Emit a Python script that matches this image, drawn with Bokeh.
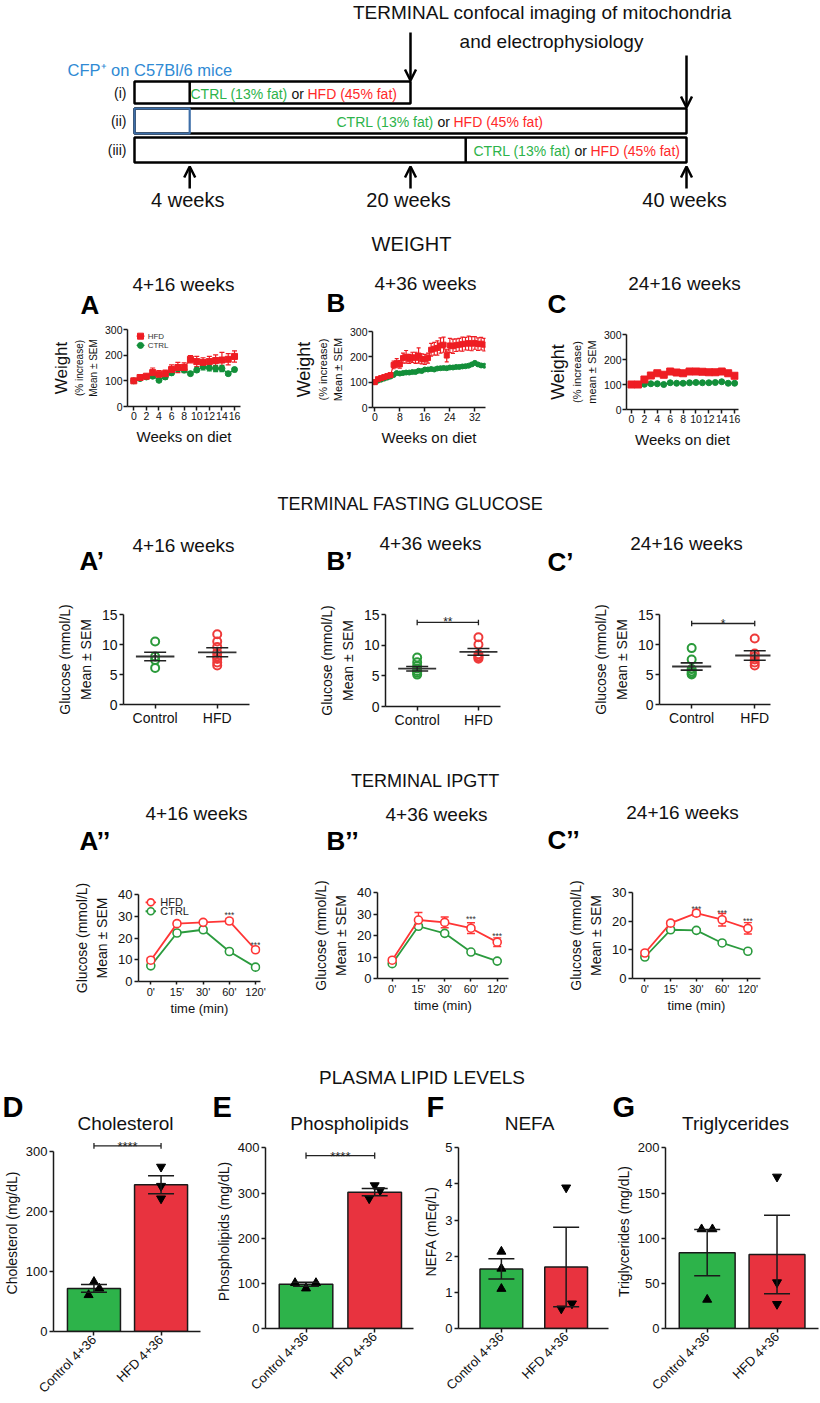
import math
from bokeh.plotting import figure
from bokeh.layouts import column, row
from bokeh.models import (Range1d, LinearAxis, FixedTicker, Whisker, TeeHead,
                          ColumnDataSource, Arrow, OpenHead)
from bokeh.core.properties import value
from bokeh.embed import file_html
from bokeh.resources import INLINE

FONT = "Liberation Sans"
AX = "#1a1a1a"

# ------------------------------------------------------------------ DATA
# timeline (weeks of age)
tl_row_end = [20, 40, 40]
tl_diet_start = [4, 4, 24]
tl_ticks = [4, 20, 40]
tl_tick_labels = ["4 weeks", "20 weeks", "40 weeks"]
tl_row_labels = ["(i)", "(ii)", "(iii)"]

# weight, % of start
wA_weeks = list(range(17))
wA_hfd = [100, 113, 118, 132, 126, 128, 144, 152, 152, 184, 175, 172, 175, 179, 181, 184, 195]
wA_hfd_err = [4, 5, 6, 18, 14, 14, 18, 20, 18, 14, 20, 18, 20, 22, 30, 22, 22]
wA_ctrl = [100, 109, 115, 118, 102, 115, 131, 148, 142, 128, 142, 155, 151, 148, 148, 128, 144]
wA_ctrl_err = [4, 5, 6, 6, 5, 8, 8, 12, 10, 6, 8, 12, 12, 12, 12, 6, 8]

wB_weeks = list(range(36))
wB_hfd = [100, 112, 116, 120, 124, 128, 168, 175, 170, 195, 200, 192, 198, 196, 205, 192, 190, 195,
          228, 232, 235, 245, 248, 205, 245, 242, 246, 248, 250, 252, 254, 252, 255, 250, 252, 248]
wB_hfd_err = [3, 5, 5, 6, 6, 8, 15, 18, 15, 20, 25, 18, 20, 22, 30, 20, 20, 20,
              25, 25, 28, 30, 30, 25, 28, 28, 25, 25, 28, 25, 28, 28, 25, 25, 25, 25]
wB_ctrl = [100, 106, 110, 114, 118, 122, 128, 136, 134, 136, 138, 138, 140, 140, 145, 144, 150, 150,
           152, 150, 154, 155, 156, 155, 158, 158, 160, 160, 162, 163, 165, 170, 176, 170, 166, 165]
wB_ctrl_err = [3, 3, 4, 4, 4, 4, 5, 5, 5, 5, 5, 5, 5, 5, 5, 5, 5, 5,
               5, 5, 5, 5, 5, 5, 5, 5, 5, 5, 5, 5, 5, 5, 6, 5, 5, 5]

wC_weeks = list(range(17))
wC_hfd = [100, 100, 120, 136, 145, 139, 152, 148, 145, 152, 152, 151, 149, 149, 152, 145, 135]
wC_hfd_err = [3, 3, 6, 4, 4, 3, 3, 3, 3, 3, 3, 3, 3, 3, 3, 4, 6]
wC_ctrl = [100, 100, 101, 103, 103, 100, 107, 105, 105, 107, 108, 107, 107, 108, 111, 105, 105]
wC_ctrl_err = [2, 2, 2, 2, 2, 2, 2, 2, 2, 2, 2, 2, 2, 2, 3, 2, 2]

# fasting glucose (mmol/L)
gA_ctrl = [10.5, 8.0, 7.4, 6.1]
gA_hfd = [11.7, 10.5, 9.6, 8.6, 8.0, 7.6, 7.0, 6.5]
gA_mean = [8.0, 8.7]
gA_sem = [0.7, 0.75]
gB_ctrl = [8.0, 7.2, 6.6, 6.2, 5.8, 5.5, 5.2]
gB_hfd = [11.3, 10.1, 8.5, 8.2, 8.0, 7.8]
gB_mean = [6.16, 8.9]
gB_sem = [0.37, 0.55]
gC_ctrl = [9.4, 7.5, 5.9, 5.5, 5.2, 5.0]
gC_hfd = [11.0, 8.5, 8.0, 7.5, 7.0, 6.5]
gC_mean = [6.33, 8.17]
gC_sem = [0.6, 0.8]
g_groups = ["Control", "HFD"]

# IPGTT (mmol/L)
ip_times = ["0'", "15'", "30'", "60'", "120'"]
ipA_hfd = [9.8, 26.6, 27.2, 27.8, 14.6]
ipA_hfd_err = [1.2, 1.0, 0.8, 1.2, 0.8]
ipA_ctrl = [7.2, 22.3, 23.8, 13.8, 6.6]
ipA_ctrl_err = [0.6, 0.6, 0.6, 0.6, 0.6]
ipA_star_t = [3, 4]
ipA_star_y = [32.6, 18.8]
ipB_hfd = [8.5, 27.2, 26.1, 23.4, 16.9]
ipB_hfd_err = [1.0, 3.5, 2.5, 2.5, 2.0]
ipB_ctrl = [6.9, 24.3, 21.0, 12.3, 8.1]
ipB_ctrl_err = [0.5, 0.7, 0.6, 0.6, 0.5]
ipB_star_t = [3, 4]
ipB_star_y = [29.4, 21.6]
ipC_hfd = [8.9, 19.3, 22.8, 20.5, 17.5]
ipC_hfd_err = [0.8, 0.8, 1.0, 2.2, 2.0]
ipC_ctrl = [7.5, 17.0, 16.8, 12.4, 9.5]
ipC_ctrl_err = [0.5, 0.5, 0.5, 0.5, 0.5]
ipC_star_t = [2, 3, 4]
ipC_star_y = [25.6, 24.4, 21.6]

# plasma lipids
lip_groups = ["Control 4+36", "HFD 4+36"]
chol_mean = [72, 245]
chol_sem = [6.4, 15]
chol_ctrl = [83, 72, 61]
chol_ctrl_dx = [0.0, 0.08, -0.08]
chol_hfd = [275, 243, 222]
chol_hfd_dx = [0.0, 0.0, 0.0]
phos_mean = [98, 302]
phos_sem = [4.5, 8]
phos_ctrl = [101, 101, 89]
phos_ctrl_dx = [-0.16, 0.145, 0.0]
phos_hfd = [317, 306, 288]
phos_hfd_dx = [0.0, 0.08, -0.08]
nefa_mean = [1.65, 1.70]
nefa_sem = [0.28, 1.10]
nefa_ctrl = [2.13, 1.66, 1.10]
nefa_ctrl_dx = [0.0, 0.0, 0.0]
nefa_hfd = [3.90, 0.69, 0.55]
nefa_hfd_dx = [0.0, 0.09, -0.075]
tg_mean = [84, 82]
tg_sem = [25.5, 43.5]
tg_ctrl = [110, 110, 32]
tg_ctrl_dx = [-0.08, 0.075, 0.0]
tg_hfd = [168, 51, 27]
tg_hfd_dx = [0.0, 0.0, 0.0]

RED_W, GREEN_W = "#ee1d23", "#138f3a"
RED_G, GREEN_G = "#ee3a3a", "#2a9a3a"
RED_I, GREEN_I = "#ff3535", "#2b9b3e"
BAR_G, BAR_R = "#2db34a", "#e8333f"

PAGE_W = 820


# ------------------------------------------------------------------ helpers
def canvas(y0, y1):
    p = figure(width=PAGE_W, height=y1 - y0, x_range=Range1d(0, PAGE_W), y_range=Range1d(y1, y0),
               output_backend="svg", toolbar_location=None, min_border=0, frame_align=False)
    p.xaxis.visible = False
    p.yaxis.visible = False
    p.xgrid.visible = False
    p.ygrid.visible = False
    p.outline_line_color = None
    return p


def txt(p, x, y, t, size, color="#111111", align="center", bold=False, baseline="middle"):
    p.text(x=[x], y=[y], text=[t], text_font=value(FONT), text_font_size=f"{size}px",
           text_color=color, text_align=align, text_baseline=baseline,
           text_font_style="bold" if bold else "normal")


def style_axis(ax, tick_size="11px"):
    ax.axis_line_width = 1.5
    ax.axis_line_color = AX
    ax.major_tick_line_width = 1.5
    ax.major_tick_line_color = AX
    ax.major_tick_in = 0
    ax.major_tick_out = 4
    ax.minor_tick_line_color = None
    ax.major_label_text_font = FONT
    ax.major_label_text_font_size = tick_size
    ax.major_label_text_color = "#111111"
    ax.major_label_standoff = 2
    ax.axis_label_text_font = FONT
    ax.axis_label_text_font_style = "normal"
    ax.axis_label_text_color = "#111111"


def make_plot(fx0, fx1, by0, by1, frame, xr, yr):
    fl, fr, ft, fb = frame
    p = figure(width=fx1 - fx0, height=by1 - by0,
               x_range=Range1d(*xr), y_range=Range1d(*yr),
               output_backend="svg", toolbar_location=None, frame_align=False,
               min_border_left=fl - fx0, min_border_right=fx1 - fr,
               min_border_top=ft - by0, min_border_bottom=by1 - fb)
    p.xgrid.visible = False
    p.ygrid.visible = False
    p.outline_line_color = None
    style_axis(p.xaxis[0])
    style_axis(p.yaxis[0])
    return p


def ylabels(p, labs):
    main = p.yaxis[0]
    t, s, so = labs[0]
    main.axis_label = t
    main.axis_label_text_font_size = s
    main.axis_label_standoff = so
    for t, s, so in labs[1:]:
        ax = LinearAxis(ticker=FixedTicker(ticks=[]), axis_line_color=None,
                        major_tick_in=0, major_tick_out=0, minor_tick_in=0, minor_tick_out=0,
                        major_label_standoff=0, axis_label=t, axis_label_text_font=FONT,
                        axis_label_text_font_size=s, axis_label_text_font_style="normal",
                        axis_label_standoff=so, axis_label_text_color="#111111")
        p.add_layout(ax, "left")


def errbars(p, x, y, e, color, head, lw=1.2, level="underlay"):
    src = ColumnDataSource(dict(base=list(x),
                                upper=[a + b for a, b in zip(y, e)],
                                lower=[a - b for a, b in zip(y, e)]))
    w = Whisker(source=src, base="base", upper="upper", lower="lower",
                line_color=color, line_width=lw, level=level,
                upper_head=TeeHead(size=head, line_color=color, line_width=lw),
                lower_head=TeeHead(size=head, line_color=color, line_width=lw))
    p.add_layout(w)


def sigbar(p, y, cap, stars, size, x0=1, x1=2, yoff=1):
    p.segment(x0=[x0, x0, x1], y0=[y, y - cap, y - cap], x1=[x1, x0, x1], y1=[y, y + cap, y + cap],
              line_color="#222222", line_width=1.3)
    p.text(x=[(x0 + x1) / 2], y=[y], text=[stars], text_font=value(FONT),
           text_font_size=f"{size}px", text_align="center", text_baseline="alphabetic",
           text_color="#222222", y_offset=yoff)


# ------------------------------------------------------------------ header 1: timeline + weight titles
def tx(w):
    return 134 + 13.8 * w


h1 = canvas(0, 318)
txt(h1, 542, 12, "TERMINAL confocal imaging of mitochondria", 19)
txt(h1, 551, 41, "and electrophysiology", 19)
txt(h1, 67, 69, "CFP\u207a on C57Bl/6 mice", 16.5, color="#2f8ad4", align="left")
rows_y = [(81, 103), (108, 133), (137, 162)]
for i, (y0, y1) in enumerate(rows_y):
    h1.quad(left=[tx(0)], right=[tx(tl_row_end[i])], top=[y0], bottom=[y1],
            fill_color=None, line_color="black", line_width=2.5)
    txt(h1, 126, (y0 + y1) / 2, tl_row_labels[i], 14, align="right")
# blue start box in row ii
h1.quad(left=[tx(0)], right=[tx(tl_diet_start[1])], top=[rows_y[1][0]], bottom=[rows_y[1][1]],
        fill_color=None, line_color="#3d6ea8", line_width=2.2)
h1.segment(x0=[tx(tl_diet_start[0]), tx(tl_diet_start[2])], y0=[rows_y[0][0], rows_y[2][0]],
           x1=[tx(tl_diet_start[0]), tx(tl_diet_start[2])], y1=[rows_y[0][1], rows_y[2][1]],
           line_color="black", line_width=2.5)
diet_text_x = [190, 336, 473]
for i, (y0, y1) in enumerate(rows_y):
    ym = (y0 + y1) / 2 + 1
    x = diet_text_x[i]
    txt(h1, x, ym, "CTRL (13% fat)", 14, color="#2db34a", align="left")
    txt(h1, x + 101, ym, "or", 14, color="#111111", align="left")
    txt(h1, x + 117, ym, "HFD (45% fat)", 14, color="#ff2a2a", align="left")
for xw, ys, ye in [(20, 32, 80), (40, 55, 107)]:
    h1.add_layout(Arrow(x_start=tx(xw), y_start=ys, x_end=tx(xw), y_end=ye, line_width=2.5,
                        end=OpenHead(size=11, line_width=2.5)))
for w, lab in zip(tl_ticks, tl_tick_labels):
    h1.add_layout(Arrow(x_start=tx(w), y_start=188, x_end=tx(w), y_end=166, line_width=2.5,
                        end=OpenHead(size=11, line_width=2.5)))
    txt(h1, tx(w) - 2, 199, lab, 20)
txt(h1, 411, 243, "WEIGHT", 20)
txt(h1, 183, 284, "4+16 weeks", 19)
txt(h1, 425, 283, "4+36 weeks", 19)
txt(h1, 684, 283, "24+16 weeks", 19)
txt(h1, 80, 304, "A", 26, color="black", align="left", bold=True)
txt(h1, 326, 302, "B", 26, color="black", align="left", bold=True)
txt(h1, 547, 303, "C", 26, color="black", align="left", bold=True)


# ------------------------------------------------------------------ weight plots
def weight_panel(fx0, fx1, frame, xr, weeks, hfd, hfd_e, ctrl, ctrl_e, xticks, ylabs, ms, head):
    p = make_plot(fx0, fx1, 318, 452, frame, xr, (0, 300))
    p.xaxis[0].ticker = FixedTicker(ticks=xticks)
    p.yaxis[0].ticker = FixedTicker(ticks=[0, 100, 200, 300])
    p.xaxis[0].major_label_text_font_size = "10.5px"
    p.yaxis[0].major_label_text_font_size = "10.5px"
    p.xaxis[0].major_label_standoff = 1
    p.yaxis[0].major_label_standoff = 1
    p.xaxis[0].axis_label = "Weeks on diet"
    p.xaxis[0].axis_label_text_font_size = "15px"
    p.xaxis[0].axis_label_standoff = 5
    ylabels(p, ylabs)
    errbars(p, weeks, ctrl, ctrl_e, GREEN_W, head)
    p.line(weeks, ctrl, line_color=GREEN_W, line_width=1.2)
    p.scatter(weeks, ctrl, marker="circle", size=ms[1], color=GREEN_W)
    errbars(p, weeks, hfd, hfd_e, RED_W, head)
    p.line(weeks, hfd, line_color=RED_W, line_width=1.2)
    p.scatter(weeks, hfd, marker="square", size=ms[0], color=RED_W)
    return p


pA = weight_panel(0, 290, (127, 240, 329, 406), (-1.0, 16.95), wA_weeks, wA_hfd, wA_hfd_err,
                  wA_ctrl, wA_ctrl_err, list(range(0, 17, 2)),
                  [("Mean \u00b1 SEM", "10px", 3), ("(% increase)", "10px", 0), ("Weight", "17px", 0)],
                  (6, 6), 5)
# legend of A
pA.segment(x0=[0.45, 0.45], y0=[274, 238], x1=[1.7, 1.7], y1=[274, 238],
           line_color=[RED_W, GREEN_W], line_width=1.2)
pA.scatter([1.07], [274], marker="square", size=6, color=RED_W)
pA.scatter([1.07], [238], marker="circle", size=6, color=GREEN_W)
pA.text(x=[2.2, 2.2], y=[274, 238], text=["HFD", "CTRL"], text_font=value(FONT),
        text_font_size="8px", text_baseline="middle", text_color="#333333")

pB = weight_panel(290, 540, (372, 485, 331, 407), (-0.75, 35.4), wB_weeks, wB_hfd, wB_hfd_err,
                  wB_ctrl, wB_ctrl_err, [0, 8, 16, 24, 32],
                  [("Mean \u00b1 SEM", "11px", 3), ("(% increase)", "11px", 0), ("Weight", "18px", 0)],
                  (5, 5), 4)
pC = weight_panel(540, 820, (626, 738, 334, 409), (-0.78, 16.6), wC_weeks, wC_hfd, wC_hfd_err,
                  wC_ctrl, wC_ctrl_err, list(range(0, 17, 2)),
                  [("mean \u00b1 SEM", "11px", 3), ("(% increase)", "11px", 0), ("Weight", "18px", 0)],
                  (7, 6), 4)

# ------------------------------------------------------------------ header 2
h2 = canvas(452, 590)
txt(h2, 410, 503, "TERMINAL FASTING GLUCOSE", 18)
txt(h2, 183, 545, "4+16 weeks", 19)
txt(h2, 430, 543, "4+36 weeks", 19)
txt(h2, 686, 543, "24+16 weeks", 19)
txt(h2, 79, 560, "A\u2019", 26, color="black", align="left", bold=True)
txt(h2, 326, 560, "B\u2019", 26, color="black", align="left", bold=True)
txt(h2, 547, 561, "C\u2019", 26, color="black", align="left", bold=True)


def glucose_panel(fx0, fx1, frame, xr, ctrl, hfd, mean, sem, sig=None):
    p = make_plot(fx0, fx1, 590, 738, frame, xr, (0, 15))
    p.xaxis[0].ticker = FixedTicker(ticks=[1, 2])
    p.xaxis[0].major_label_overrides = {1: g_groups[0], 2: g_groups[1]}
    p.yaxis[0].ticker = FixedTicker(ticks=[0, 5, 10, 15])
    p.xaxis[0].major_label_text_font_size = "14px"
    p.yaxis[0].major_label_text_font_size = "14px"
    p.xaxis[0].major_label_standoff = 1
    ylabels(p, [("Mean \u00b1 SEM", "14px", 5), ("Glucose (mmol/L)", "14px", 2)])
    p.scatter([1] * len(ctrl), ctrl, marker="circle", size=8, fill_color=None,
              line_color=GREEN_G, line_width=2)
    p.scatter([2] * len(hfd), hfd, marker="circle", size=8, fill_color=None,
              line_color=RED_G, line_width=2)
    p.segment(x0=[0.69, 1.69], y0=mean, x1=[1.31, 2.31], y1=mean, line_color="#333333",
              line_width=1.8)
    errbars(p, [1, 2], mean, sem, "#222222", 22, lw=1.6, level="annotation")
    if sig:
        sigbar(p, sig[0], 0.45, sig[1], 12, yoff=0)
    return p


gA = glucose_panel(0, 290, (123, 249, 614, 704), (0.49, 2.52), gA_ctrl, gA_hfd, gA_mean, gA_sem)
gB = glucose_panel(290, 540, (385, 500, 614, 706), (0.483, 2.36), gB_ctrl, gB_hfd, gB_mean, gB_sem,
                   (13.7, "**"))
gC = glucose_panel(540, 820, (659, 770, 614, 704), (0.49, 2.25), gC_ctrl, gC_hfd, gC_mean, gC_sem,
                   (13.5, "*"))

# ------------------------------------------------------------------ header 3
h3 = canvas(738, 872)
txt(h3, 425, 780, "TERMINAL IPGTT", 18)
txt(h3, 196, 813, "4+16 weeks", 19)
txt(h3, 436, 814, "4+36 weeks", 19)
txt(h3, 682, 812, "24+16 weeks", 19)
txt(h3, 79, 840, "A\u2019\u2019", 26, color="black", align="left", bold=True)
txt(h3, 326, 840, "B\u2019\u2019", 26, color="black", align="left", bold=True)
txt(h3, 547, 839, "C\u2019\u2019", 26, color="black", align="left", bold=True)


def ipgtt_panel(fx0, fx1, frame, xr, ymax, yticks, hfd, hfd_e, ctrl, ctrl_e, st_t, st_y, legend=False):
    p = make_plot(fx0, fx1, 872, 1018, frame, xr, (0, ymax))
    idx = list(range(len(ip_times)))
    p.xaxis[0].ticker = FixedTicker(ticks=idx)
    p.xaxis[0].major_label_overrides = {i: t for i, t in zip(idx, ip_times)}
    p.yaxis[0].ticker = FixedTicker(ticks=yticks)
    p.xaxis[0].major_label_text_font_size = "11px"
    p.yaxis[0].major_label_text_font_size = "13px"
    p.xaxis[0].major_tick_out = 3
    p.xaxis[0].major_label_standoff = 1
    p.xaxis[0].axis_label = "time (min)"
    p.xaxis[0].axis_label_text_font_size = "13px"
    p.xaxis[0].axis_label_standoff = 0
    ylabels(p, [("Mean \u00b1 SEM", "14px", 5), ("Glucose (mmol/L)", "14px", 2)])
    errbars(p, idx, ctrl, ctrl_e, GREEN_I, 8, lw=1.4)
    p.line(idx, ctrl, line_color=GREEN_I, line_width=1.8)
    p.scatter(idx, ctrl, marker="circle", size=8, fill_color="white", line_color=GREEN_I, line_width=1.6)
    errbars(p, idx, hfd, hfd_e, RED_I, 8, lw=1.4)
    p.line(idx, hfd, line_color=RED_I, line_width=1.8)
    p.scatter(idx, hfd, marker="circle", size=8, fill_color="white", line_color=RED_I, line_width=1.6)
    p.text(x=st_t, y=st_y, text=["***"] * len(st_t), text_font=value(FONT), text_font_size="8.5px",
           text_align="center", text_baseline="alphabetic", y_offset=4, text_color="#333333")
    if legend:
        p.segment(x0=[-0.2, -0.2], y0=[36.4, 32.3], x1=[0.2, 0.2], y1=[36.4, 32.3],
                  line_color=[RED_I, GREEN_I], line_width=1.8)
        p.scatter([0, 0], [36.4, 32.3], marker="circle", size=7, fill_color="white",
                  line_color=[RED_I, GREEN_I], line_width=1.6)
        p.text(x=[0.36, 0.36], y=[36.4, 32.3], text=["HFD", "CTRL"], text_font=value(FONT),
               text_font_size="11px", text_baseline="middle", text_color="#222222")
    return p


iA = ipgtt_panel(0, 290, (138, 260, 894, 981), (-0.47, 4.19), 40, [0, 10, 20, 30, 40],
                 ipA_hfd, ipA_hfd_err, ipA_ctrl, ipA_ctrl_err, ipA_star_t, ipA_star_y, legend=True)
iB = ipgtt_panel(290, 540, (377, 508, 892, 978), (-0.56, 4.43), 40, [0, 10, 20, 30, 40],
                 ipB_hfd, ipB_hfd_err, ipB_ctrl, ipB_ctrl_err, ipB_star_t, ipB_star_y)
iC = ipgtt_panel(540, 820, (632, 760, 892, 978), (-0.48, 4.49), 30, [0, 10, 20, 30],
                 ipC_hfd, ipC_hfd_err, ipC_ctrl, ipC_ctrl_err, ipC_star_t, ipC_star_y)

# ------------------------------------------------------------------ header 4
h4 = canvas(1018, 1134)
txt(h4, 422, 1077, "PLASMA LIPID LEVELS", 19)
txt(h4, 2, 1106, "D", 29, color="black", align="left", bold=True)
txt(h4, 212, 1106, "E", 29, color="black", align="left", bold=True)
txt(h4, 426, 1106, "F", 29, color="black", align="left", bold=True)
txt(h4, 612, 1106, "G", 29, color="black", align="left", bold=True)
txt(h4, 125, 1123, "Cholesterol", 19)
txt(h4, 349, 1123, "Phospholipids", 19)
txt(h4, 529, 1123, "NEFA", 19)
txt(h4, 735, 1123, "Triglycerides", 19)


def lipid_panel(fx0, fx1, frame, xr, ytop, yticks, ylab, mean, sem, c_pts, c_dx, h_pts, h_dx,
                width, sig=None):
    p = make_plot(fx0, fx1, 1134, 1403, frame, xr, (0, ytop))
    p.xaxis[0].ticker = FixedTicker(ticks=[1, 2])
    p.xaxis[0].major_label_overrides = {1: lip_groups[0], 2: lip_groups[1]}
    p.xaxis[0].major_label_orientation = math.pi / 4
    p.xaxis[0].major_label_text_font_size = "13px"
    p.xaxis[0].major_label_standoff = 2
    p.yaxis[0].ticker = FixedTicker(ticks=yticks)
    p.yaxis[0].bounds = (0, yticks[-1])
    p.yaxis[0].major_label_text_font_size = "13px"
    ylabels(p, [(ylab, "14px", 3)])
    p.vbar(x=[1, 2], top=mean, width=width, fill_color=[BAR_G, BAR_R], line_color="#1a1a1a",
           line_width=1.5)
    p.scatter([1 + d for d in c_dx], c_pts, marker="triangle", size=9, color="black")
    p.scatter([2 + d for d in h_dx], h_pts, marker="inverted_triangle", size=9, color="black")
    errbars(p, [1, 2], mean, sem, "#1a1a1a", 26, lw=1.5, level="annotation")
    if sig:
        sigbar(p, sig[0], sig[1], "****", 13)
    return p


lD = lipid_panel(0, 212, (51, 200, 1134, 1332), (0.397, 2.588), 329, [0, 100, 200, 300],
                 "Cholesterol (mg/dL)", chol_mean, chol_sem, chol_ctrl, chol_ctrl_dx,
                 chol_hfd, chol_hfd_dx, 0.79, (310, 5))
lE = lipid_panel(212, 420, (264, 413, 1134, 1328), (0.41, 2.565), 429.7, [0, 100, 200, 300, 400],
                 "Phospholipids (mg/dL)", phos_mean, phos_sem, phos_ctrl, phos_ctrl_dx,
                 phos_hfd, phos_hfd_dx, 0.78, (383, 7))
lF = lipid_panel(420, 612, (454, 608, 1134, 1328), (0.338, 2.654), 5.37, [0, 1, 2, 3, 4, 5],
                 "NEFA (mEq/L)", nefa_mean, nefa_sem, nefa_ctrl, nefa_ctrl_dx,
                 nefa_hfd, nefa_hfd_dx, 0.66)
lG = lipid_panel(612, 820, (662, 818, 1134, 1328), (0.403, 2.594), 214.8, [0, 50, 100, 150, 200],
                 "Triglycerides (mg/dL)", tg_mean, tg_sem, tg_ctrl, tg_ctrl_dx,
                 tg_hfd, tg_hfd_dx, 0.8)

layout = column(h1, row(pA, pB, pC), h2, row(gA, gB, gC), h3, row(iA, iB, iC), h4,
                row(lD, lE, lF, lG))

open("out.html", "w").write(file_html(layout, INLINE))
